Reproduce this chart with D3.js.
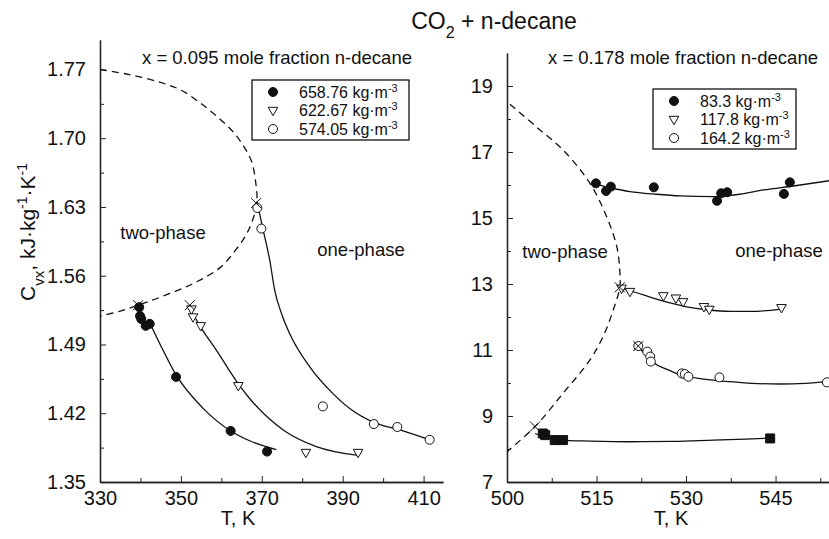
<!DOCTYPE html>
<html>
<head>
<meta charset="utf-8">
<script src="https://cdn.jsdelivr.net/npm/d3@7"></script>
<style>
  body { margin: 0; background: #fff; }
  text { font-family: "Liberation Sans", Arial, sans-serif; fill: #111; }
</style>
</head>
<body>
<svg id="chart" width="829" height="539"></svg>
<script>
// ---- left panel data (x = 0.095), T in K, Cvx in kJ/(kg K)
const leftXTicks = [330, 350, 370, 390, 410];
const leftXMinor = [340, 360, 380, 400];
const leftYTicks = [1.35, 1.42, 1.49, 1.56, 1.63, 1.70, 1.77];
const leftYMinor = [1.385, 1.455, 1.525, 1.595, 1.665, 1.735];
const leftLegend = ["658.76", "622.67", "574.05"];

const leftFilled = [[339.7,1.528],[339.9,1.519],[340.2,1.516],[341.3,1.509],[342.3,1.511],[348.8,1.457],[362.3,1.402],[371.3,1.381]];
const leftTri = [[352.6,1.526],[353.0,1.518],[354.9,1.509],[364.2,1.448],[380.9,1.380],[393.8,1.380]];
const leftOpen = [[368.9,1.629],[369.9,1.608],[385.1,1.427],[397.7,1.409],[403.5,1.406],[411.5,1.393]];
const leftCross = [[368.6,1.634],[339.4,1.530],[352.2,1.530]];

const leftFilledFit = [[342.3,1.512],[345,1.489],[348.8,1.459],[355.5,1.425],[362.3,1.402],[367,1.392],[373.6,1.383]];
const leftTriFit = [[353.0,1.521],[355,1.507],[358.8,1.484],[364.2,1.450],[367,1.435],[375.3,1.403],[383.5,1.386],[393.8,1.377]];
const leftOpenFit = [[368.8,1.636],[370.2,1.609],[372,1.575],[373.2,1.545],[375,1.520],[376.9,1.501],[381.9,1.467],[387.6,1.440],[392,1.424],[397.5,1.411],[404.1,1.403],[411.5,1.393]];
const leftBoundary = [[330,1.770],[337,1.765],[344.8,1.757],[350,1.749],[355.4,1.734],[359.5,1.720],[362.8,1.707],[365.5,1.692],[367.5,1.676],[368.5,1.655],[368.8,1.636],[368,1.620],[366.3,1.603],[363.5,1.586],[359.6,1.568],[353,1.552],[344.8,1.538],[339.4,1.530],[335,1.524],[330,1.519]];

// ---- right panel data (x = 0.178)
const rightXTicks = [500, 515, 530, 545];
const rightXMinor = [507.5, 522.5, 537.5, 552.5];
const rightYTicks = [7, 9, 11, 13, 15, 17, 19];
const rightYMinor = [8, 10, 12, 14, 16, 18];
const rightLegend = ["83.3", "117.8", "164.2"];

const rightFilled = [[514.9,16.05],[516.6,15.82],[517.4,15.95],[524.6,15.93],[535.2,15.52],[535.9,15.75],[536.9,15.78],[546.4,15.73],[547.4,16.08]];
const rightTri = [[519.2,12.87],[520.6,12.77],[526.2,12.64],[528.3,12.57],[529.5,12.46],[533.0,12.31],[533.9,12.23],[546.0,12.28]];
const rightOpen = [[522.0,11.12],[523.5,10.95],[524.0,10.80],[524.1,10.65],[529.3,10.29],[529.8,10.27],[530.4,10.19],[535.6,10.17],[553.6,10.02]];
const rightSquare = [[506.0,8.47],[506.4,8.42],[508.0,8.27],[509.4,8.27],[544.1,8.32]];
const rightCross = [[518.9,12.90],[504.7,8.68],[522.0,11.12]];

const rightFilledFit = [[514.2,16.05],[517,15.93],[520.6,15.80],[525,15.72],[529,15.67],[534.6,15.65],[539,15.72],[543,15.85],[548,15.97],[554,16.13]];
const rightTriFit = [[519.2,12.87],[521.5,12.75],[524.5,12.57],[527,12.44],[530.1,12.31],[533.5,12.22],[537.4,12.17],[541,12.17],[546,12.24]];
const rightOpenFit = [[521.7,11.15],[523,10.90],[524.5,10.62],[527,10.40],[529,10.25],[533,10.12],[537.4,10.04],[541,9.99],[545.8,9.97],[550,9.99],[554,10.04]];
const rightSquareFit = [[504.7,8.47],[506.5,8.36],[508.9,8.27],[514,8.24],[520.6,8.22],[528,8.23],[534.6,8.27],[540,8.30],[544.1,8.33]];
const rightBoundary = [[500.5,18.45],[505,17.75],[509.4,17.06],[513.9,16.05],[516.7,15.04],[518.4,14.13],[518.9,13.40],[518.9,12.90],[517.8,12.21],[516.2,11.45],[513.9,10.70],[509.4,9.69],[504.7,8.68],[500,7.92]];

const svg = d3.select("svg#chart");
const line = d3.line().curve(d3.curveMonotoneX);
const smooth = d3.line().curve(d3.curveCatmullRom.alpha(0.5));

// title
const title = svg.append("text").attr("x", 494).attr("y", 29)
  .attr("text-anchor", "middle").style("font-size", "23px");
title.append("tspan").text("CO");
title.append("tspan").attr("baseline-shift", "sub").style("font-size", "16px").text("2");
title.append("tspan").text(" + n-decane");

// y label
const ylab = svg.append("text")
  .attr("transform", "translate(35,232) rotate(-90)")
  .attr("text-anchor", "middle").style("font-size", "21px");
ylab.append("tspan").text("C");
ylab.append("tspan").attr("baseline-shift", "sub").style("font-size", "15px").text("vx");
ylab.append("tspan").text(", kJ\u00b7kg");
ylab.append("tspan").attr("baseline-shift", "super").style("font-size", "14px").text("-1");
ylab.append("tspan").text("\u00b7K");
ylab.append("tspan").attr("baseline-shift", "super").style("font-size", "14px").text("-1");

function symbolPath(kind) {
  if (kind === "tri") return "M-4.8,-3.2L4.8,-3.2L0,5.2Z";
  if (kind === "square") return "M-4.5,-4.5H4.5V4.5H-4.5Z";
  if (kind === "cross") return "M-5,-5L5,5M-5,5L5,-5";
  return d3.symbol(d3.symbolCircle, 64)();
}

function drawPanel(p) {
  const g = svg.append("g");
  const x = d3.scaleLinear().domain(p.xDomain).range([p.left, p.right]);
  const y = d3.scaleLinear().domain(p.yDomain).range([p.bottom, p.top]);

  // axes, ticks pointing inward
  const ax = g.append("g").attr("transform", `translate(0,${p.bottom})`)
    .call(d3.axisBottom(x).tickValues(p.xTicks).tickSizeInner(-6).tickSizeOuter(0).tickPadding(14).tickFormat(d3.format("d")));
  const axm = g.append("g").attr("transform", `translate(0,${p.bottom})`)
    .call(d3.axisBottom(x).tickValues(p.xMinor).tickSizeInner(-4).tickSizeOuter(0).tickFormat(""));
  const ay = g.append("g").attr("transform", `translate(${p.left},0)`)
    .call(d3.axisLeft(y).tickValues(p.yTicks).tickSizeInner(-6).tickSizeOuter(0).tickPadding(14).tickFormat(p.yFmt));
  const aym = g.append("g").attr("transform", `translate(${p.left},0)`)
    .call(d3.axisLeft(y).tickValues(p.yMinor).tickSizeInner(-4).tickSizeOuter(0).tickFormat(""));
  [ax, axm, ay, aym].forEach(a => {
    a.select(".domain").attr("stroke", "#222").attr("stroke-width", 1.3);
    a.selectAll(".tick line").attr("stroke", "#222").attr("stroke-width", 1);
    a.selectAll("text").style("font-size", "20px").style("font-family", "'Liberation Sans', Arial, sans-serif").attr("fill", "#111");
  });
  ax.selectAll("text").attr("dy", "0.71em").attr("y", 9);

  g.append("text").attr("x", p.xLabelX).attr("y", 525).attr("text-anchor", "middle")
    .style("font-size", "20px").text("T, K");

  // boundary (dashed) and fits
  g.append("path").attr("d", smooth(p.boundary.map(d => [x(d[0]), y(d[1])])))
    .attr("fill", "none").attr("stroke", "#111").attr("stroke-width", 1.3).attr("stroke-dasharray", "7,5");
  p.fits.forEach(f => {
    g.append("path").attr("d", line(f.map(d => [x(d[0]), y(d[1])])))
      .attr("fill", "none").attr("stroke", "#111").attr("stroke-width", 1.3);
  });

  // markers
  p.series.forEach(s => {
    g.selectAll(null).data(s.data).join("path")
      .attr("transform", d => `translate(${x(d[0])},${y(d[1])})`)
      .attr("d", symbolPath(s.kind))
      .attr("fill", s.fill ? "#111" : "#fff")
      .attr("stroke", "#111").attr("stroke-width", 1);
  });
  g.selectAll(null).data(p.crosses).join("path")
    .attr("transform", d => `translate(${x(d[0])},${y(d[1])})`)
    .attr("d", symbolPath("cross")).attr("fill", "none")
    .attr("stroke", "#111").attr("stroke-width", 1);

  // subtitle and region labels
  g.append("text").attr("x", p.subX).attr("y", 64).style("font-size", "18.5px").text(p.subtitle);
  g.append("text").attr("x", p.twoX).attr("y", p.twoY).attr("text-anchor", "middle").style("font-size", "18.5px").text("two-phase");
  g.append("text").attr("x", p.oneX).attr("y", p.oneY).attr("text-anchor", "middle").style("font-size", "18.5px").text("one-phase");

  // legend
  const lg = g.append("g").attr("transform", `translate(${p.legX},${p.legY})`);
  lg.append("rect").attr("width", p.legW).attr("height", 60)
    .attr("fill", "#fff").attr("stroke", "#111").attr("stroke-width", 1.3);
  const kinds = [["circle", true], ["tri", false], ["circle", false]];
  p.legend.forEach((lab, i) => {
    const cy = 12 + i * 18.5;
    lg.append("path").attr("transform", `translate(21,${cy})`).attr("d", symbolPath(kinds[i][0]))
      .attr("fill", kinds[i][1] ? "#111" : "#fff").attr("stroke", "#111").attr("stroke-width", 1);
    const t = lg.append("text").attr("x", 47).attr("y", cy + 5.5).style("font-size", "16px");
    t.append("tspan").text(lab + " kg\u00b7m");
    t.append("tspan").attr("baseline-shift", "super").style("font-size", "11px").text("-3");
  });
}

drawPanel({
  left: 100, right: 443, top: 40, bottom: 482,
  xDomain: [330, 414.8], yDomain: [1.35, 1.80],
  xTicks: leftXTicks, xMinor: leftXMinor, yTicks: leftYTicks, yMinor: leftYMinor,
  yFmt: d3.format(".2f"), xLabelX: 238,
  boundary: leftBoundary, fits: [leftFilledFit, leftTriFit, leftOpenFit],
  series: [{data: leftFilled, kind: "circle", fill: true}, {data: leftTri, kind: "tri", fill: false}, {data: leftOpen, kind: "circle", fill: false}],
  crosses: leftCross,
  subtitle: "x = 0.095 mole fraction n-decane", subX: 142,
  twoX: 163, twoY: 239, oneX: 361, oneY: 256,
  legend: leftLegend, legX: 252, legY: 80, legW: 157
});

drawPanel({
  left: 507, right: 829, top: 53, bottom: 482,
  xDomain: [500, 553.96], yDomain: [7, 20],
  xTicks: rightXTicks, xMinor: rightXMinor, yTicks: rightYTicks, yMinor: rightYMinor,
  yFmt: d3.format("d"), xLabelX: 671,
  boundary: rightBoundary, fits: [rightFilledFit, rightTriFit, rightOpenFit, rightSquareFit],
  series: [{data: rightFilled, kind: "circle", fill: true}, {data: rightTri, kind: "tri", fill: false}, {data: rightOpen, kind: "circle", fill: false}, {data: rightSquare, kind: "square", fill: true}],
  crosses: rightCross,
  subtitle: "x = 0.178 mole fraction n-decane", subX: 548,
  twoX: 565, twoY: 258, oneX: 779, oneY: 257,
  legend: rightLegend, legX: 653, legY: 89, legW: 143
});
</script>
</body>
</html>
